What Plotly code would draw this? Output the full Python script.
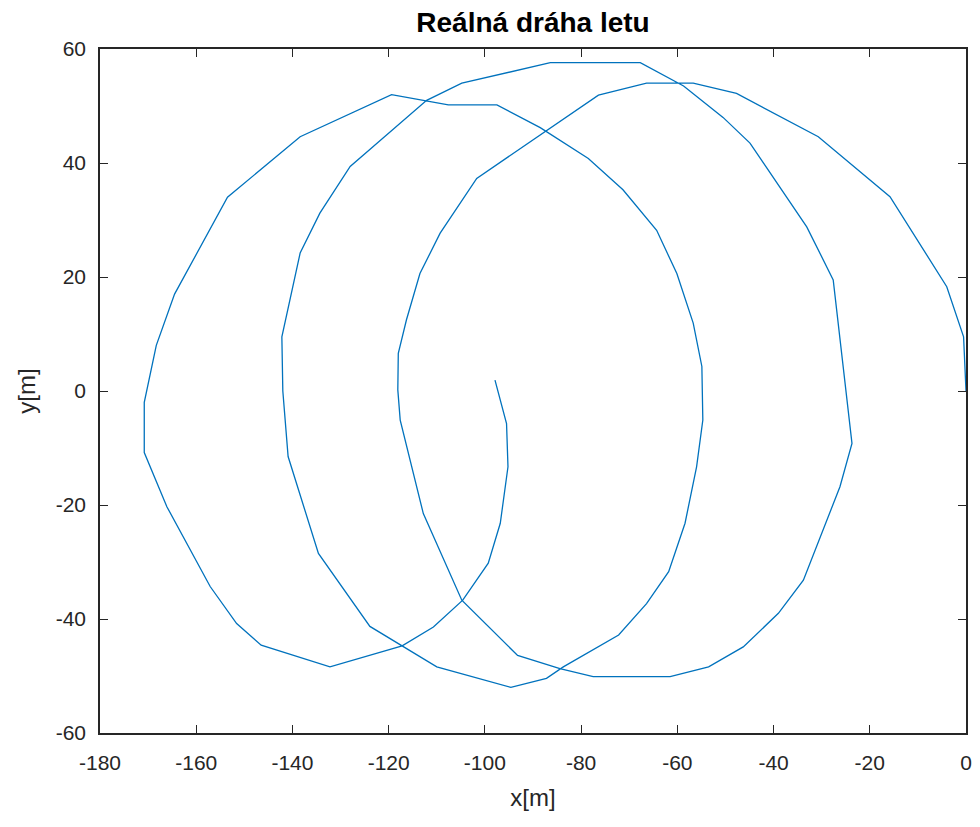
import plotly.graph_objects as go

# Flight path (x, y) in metres
x_m = [-97.9, -95.5, -95.2, -96.8, -99.3, -104.6, -110.7, -117.2, -132.2, -146.5,
       -151.6, -157.1, -166.1, -170.8, -170.8, -168.3, -164.5, -153.5, -138.4, -128.7,
       -119.4, -107.6, -97.5, -88.5, -78.5, -71.3, -64.3, -60.1, -56.7, -54.9,
       -54.7, -56.0, -58.4, -61.8, -66.4, -72.2, -83.7, -87.2, -94.6, -110.0,
       -123.9, -134.6, -140.9, -142.0, -142.2, -138.4, -134.3, -128.0, -119.7, -112.1,
       -104.8, -86.4, -67.7, -58.7, -50.5, -44.9, -42.5, -33.1, -27.6, -23.7,
       -26.2, -33.8, -39.0, -46.3, -53.5, -61.5, -77.5, -84.4, -93.2, -104.8,
       -112.8, -117.6, -118.1, -118.0, -116.3, -113.5, -109.3, -101.7, -76.4, -66.4,
       -56.7, -47.7, -30.7, -15.8, -4.0, -0.5, 0.0]
y_m = [1.9, -5.7, -13.3, -23.2, -30.2, -36.7, -41.4, -44.7, -48.4, -44.6,
       -40.8, -34.3, -20.3, -10.8, -2.0, 8.0, 17.0, 34.0, 44.6, 48.4,
       52.0, 50.2, 50.2, 46.2, 40.8, 35.3, 28.2, 20.6, 11.9, 4.3,
       -5.1, -13.3, -23.2, -31.7, -37.3, -42.8, -48.4, -50.4, -52.0, -48.4,
       -41.3, -28.5, -11.5, 0.0, 9.5, 24.2, 31.2, 39.4, 45.5, 51.0,
       54.0, 57.6, 57.6, 53.5, 48.0, 43.5, 40.5, 28.8, 19.5, -9.2,
       -16.8, -33.2, -39.0, -44.9, -48.4, -50.1, -50.1, -48.7, -46.4, -36.7,
       -21.5, -5.1, 0.2, 6.6, 12.5, 20.6, 27.7, 37.3, 51.9, 54.0,
       54.0, 52.2, 44.6, 34.1, 18.3, 9.5, 0.0]

x_ticks = [-180, -160, -140, -120, -100, -80, -60, -40, -20, 0]
y_ticks = [-60, -40, -20, 0, 20, 40, 60]

title_text = "Reálná dráha letu"
x_label = "x[m]"
y_label = "y[m]"

AX = "#262626"
FONT = "Liberation Sans, Arial, Helvetica, sans-serif"

fig = go.Figure()
fig.add_trace(go.Scatter(x=x_m, y=y_m, mode="lines",
                         line=dict(color="#0072BD", width=1.3),
                         showlegend=False, hoverinfo="skip"))

axis_common = dict(
    showgrid=False, zeroline=False,
    showline=True, linecolor=AX, linewidth=1.5, mirror="allticks",
    ticks="inside", ticklen=8, tickwidth=1.2, tickcolor=AX,
    tickfont=dict(family=FONT, size=21, color=AX),
)

fig.update_xaxes(range=[-180, 0], tickvals=x_ticks, ticktext=[str(v) for v in x_ticks],
                 ticklabelstandoff=10,
                 title=dict(text=x_label, font=dict(family=FONT, size=24, color=AX), standoff=16),
                 **axis_common)
fig.update_yaxes(range=[-60, 60], tickvals=y_ticks, ticktext=[str(v) for v in y_ticks],
                 ticklabelstandoff=8,
                 title=dict(text=y_label, font=dict(family=FONT, size=24, color=AX), standoff=13),
                 **axis_common)

fig.update_layout(
    width=980, height=827,
    margin=dict(l=100, r=14, t=49, b=94, autoexpand=False),
    paper_bgcolor="white", plot_bgcolor="white",
    title=dict(text="<b>" + title_text + "</b>", x=0.5, xref="paper",
               y=1 - 22 / 827, yref="container", yanchor="middle", xanchor="center",
               font=dict(family=FONT, size=28, color="black")),
)

fig.write_html("out.html", config={"displayModeBar": False},
               post_script="document.body.style.margin='0';document.body.style.overflow='hidden';")
